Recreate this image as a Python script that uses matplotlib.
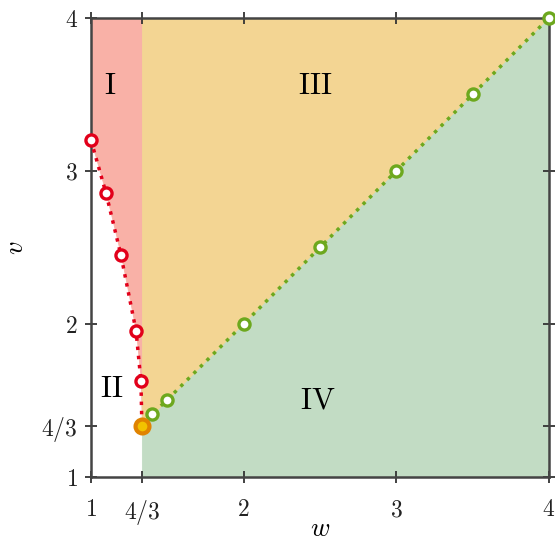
import matplotlib
matplotlib.use("Agg")
import matplotlib.pyplot as plt
import numpy as np

plt.rcParams['mathtext.fontset'] = 'cm'
plt.rcParams['font.family'] = 'serif'
plt.rcParams['font.serif'] = ['DejaVu Serif']

red_w = [1.0, 1.098, 1.196, 1.295, 1.327]
red_v = [3.20, 2.856, 2.45, 1.954, 1.627]
green_w = [1.40, 1.498, 2.0, 2.5, 3.0, 3.5, 4.0]
green_v = [1.41, 1.503, 2.0, 2.5, 3.0, 3.5, 4.0]
crit_w, crit_v = 4/3, 4/3

xticks = [1, 4/3, 2, 3, 4]
xticklabels = ['$1$', '$4/3$', '$2$', '$3$', '$4$']
yticks = [1, 4/3, 2, 3, 4]
yticklabels = ['$1$', '$4/3$', '$2$', '$3$', '$4$']

fig = plt.figure(figsize=(5.55, 5.45), dpi=100)
ax = fig.add_axes([0.164, 0.125, 0.825, 0.842])

# regions
cw = red_w + [crit_w]
cv = red_v + [crit_v]
ax.fill_between(cw, cv, 4, color='#F9B1A7', lw=0.6, ec='#F9B1A7', zorder=1)
xx = np.array([crit_w, 4.0])
ax.fill_between(xx, xx, 4, color='#F3D593', lw=0.6, ec='#F3D593', zorder=1)
ax.fill_between(xx, 1, xx, color='#C2DCC4', lw=0.6, ec='#C2DCC4', zorder=1)

ax.plot(cw, cv, linestyle=':', color='#E2001A', lw=2.5, zorder=3)
ax.plot([crit_w] + green_w, [crit_v] + green_v, linestyle=':', color='#6DA81E', lw=2.5, zorder=3)
ax.plot(red_w, red_v, 'o', ms=8, mfc='white', mec='#E2001A', mew=2.4, zorder=4, clip_on=False)
ax.plot(green_w, green_v, 'o', ms=8, mfc='white', mec='#6DA81E', mew=2.4, zorder=4, clip_on=False)
ax.plot([crit_w], [crit_v], 'o', ms=10, mfc='#F2C200', mec='#E08300', mew=3, zorder=5, clip_on=False)

fs = 22
ax.text(1.124, 3.56, r'$\mathrm{I}$', fontsize=fs, ha='center', va='center')
ax.text(2.467, 3.56, r'$\mathrm{III}$', fontsize=fs, ha='center', va='center')
ax.text(1.137, 1.58, r'$\mathrm{II}$', fontsize=fs, ha='center', va='center')
ax.text(2.486, 1.50, r'$\mathrm{IV}$', fontsize=fs, ha='center', va='center')

ax.set_xlim(1, 4)
ax.set_ylim(1, 4)
ax.set_xticks(xticks)
ax.set_xticklabels(xticklabels)
ax.set_yticks(yticks)
ax.set_yticklabels(yticklabels)
ax.tick_params(direction='inout', length=9, width=1.3, colors='#333333', labelsize=17,
               top=True, right=True, labelcolor='#222222')
ax.tick_params(axis='x', pad=11)
ax.tick_params(axis='y', pad=5)
for s in ax.spines.values():
    s.set_linewidth(1.8)
    s.set_color('#444444')
fig.text(0.577, 0.016, '$w$', fontsize=19, ha='center', va='baseline')
ax.set_ylabel('$v$', fontsize=19, labelpad=10)

fig.savefig('out.png', dpi=100)
